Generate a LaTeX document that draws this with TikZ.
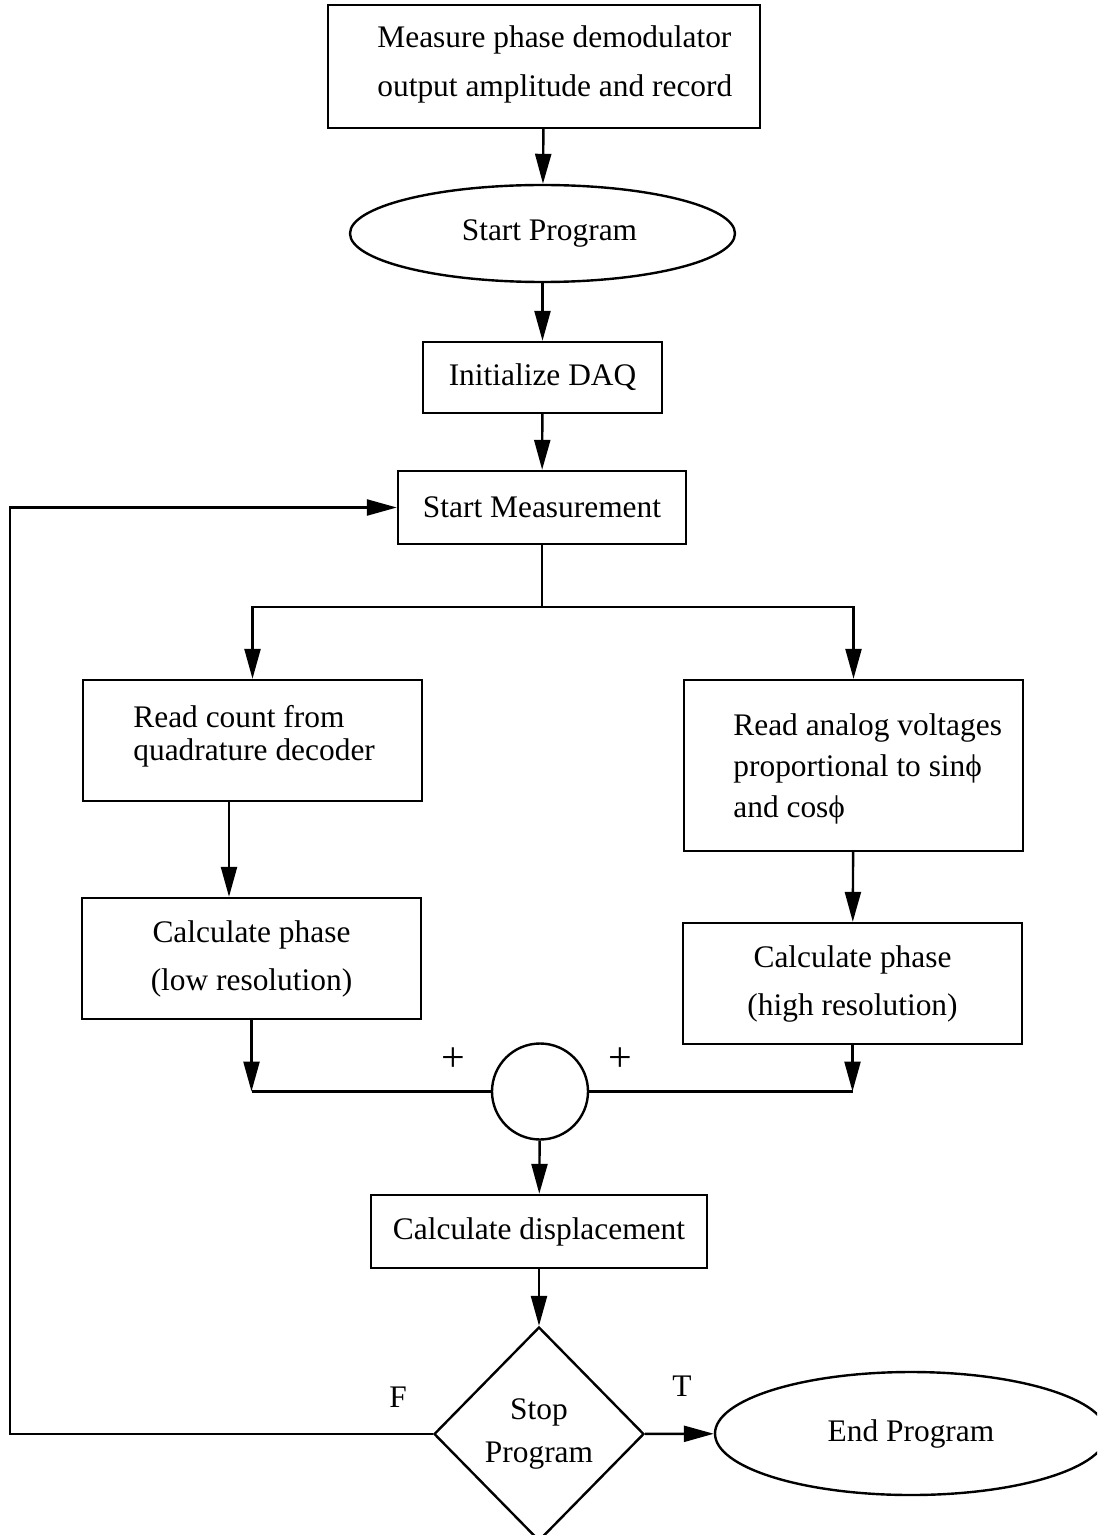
\documentclass[tikz,border=0pt]{standalone}
\usepackage{fontspec}
\setmainfont{Liberation Serif}
\usetikzlibrary{arrows.meta,shapes.geometric}
\tikzset{
	every node/.style={font=\fontsize{15.7pt}{16.5pt}\selectfont},
	box/.style={draw, line width=1.2pt, rectangle, inner sep=0pt, align=center},
	oval/.style={draw, line width=1.2pt, ellipse, inner sep=0pt},
	junc/.style={draw, line width=1.2pt, circle, inner sep=0pt, minimum size=48pt},
	dec/.style={draw, line width=1.2pt, diamond, inner sep=0pt, align=center, minimum width=105pt, minimum height=107pt},
	txt/.style={inner sep=0pt, align=left},
	sign/.style={inner sep=0pt, font=\fontsize{21pt}{22pt}\selectfont},
	ln/.style={line width=1.2pt},
	arr/.style={line width=1.2pt, -{Triangle[length=15pt,width=8pt]}}
}

\begin{document}
\begin{tikzpicture}[x=0.5pt, y=-0.5pt]
			%%%%% START %%%%%
			
			\useasboundingbox (0,0) rectangle (1097,1535);
			\clip (0,0) rectangle (1097,1535);
			
			\node[box, minimum width=216pt, minimum height=61.5pt] (meas) at (544,66.5) {};
			\node[txt, anchor=west] (meas-t) at (377,64) {Measure phase demodulator\\[8pt]output amplitude and record};
			
			\node[oval, minimum width=192.5pt, minimum height=48.5pt] (startp) at (542.5,233.5) {\hspace{7pt}Start Program};
			\node[box, minimum width=119.5pt, minimum height=35.5pt] (init) at (542.5,377.5) {Initialize DAQ};
			\node[box, minimum width=144pt, minimum height=36.5pt] (startm) at (542,507.5) {Start Measurement};
			\coordinate (split) at (542,607);
			
			\node[box, minimum width=169.5pt, minimum height=60.5pt] (rdcount) at (252.5,740.5) {};
			\node[txt, anchor=west] (rdcount-t) at (133,736) {Read count from\\quadrature decoder};
			\node[box, minimum width=169.5pt, minimum height=85.5pt] (rdanalog) at (853.5,765.5) {};
			\node[txt, anchor=west] (rdanalog-t) at (733,769) {Read analog voltages\\[4pt]proportional to sinϕ\\[4pt]and cosϕ};
			
			\node[box, minimum width=169.5pt, minimum height=60.5pt] (calclo) at (251.5,958.5) {Calculate phase\\[7.5pt](low resolution)};
			\node[box, minimum width=169.5pt, minimum height=60.5pt] (calchi) at (852.5,983.5) {Calculate phase\\[7.5pt](high resolution)};
			
			\node[junc] (sum) at (540,1091.5) {};
			\node[sign] (plus-l) at (453,1060) {+};
			\node[sign] (plus-r) at (620,1060) {+};
			
			\node[box, minimum width=168pt, minimum height=36.5pt] (disp) at (539,1231.5) {Calculate displacement};
			\node[dec] (stop) at (539,1434) {Stop\\[5pt]Program};
			\node[oval, minimum width=196pt, minimum height=61.5pt] (endp) at (911,1433.5) {End Program};
			\node[txt] (lab-f) at (398,1397) {F};
			\node[txt] (lab-t) at (682,1386) {T};
			\coordinate (ret) at (10,1434);
			
			\draw[arr] (meas) -- (startp);
			\draw[arr] (startp) -- (init);
			\draw[arr] (init) -- (startm);
			\draw[ln] (startm) -- (split);
			\draw[arr] (split) -| (rdcount.north);
			\draw[arr] (split) -| (rdanalog.north);
			\draw[arr] ([xshift=-11.75pt]rdcount.south) -- ([xshift=-11.75pt]rdcount.south |- calclo.north);
			\draw[arr] (rdanalog) -- (calchi);
			
			\draw[arr] (calclo.south) -- (calclo.south |- sum);
			\draw[ln] (calclo.south |- sum) -- (sum.west);
			\draw[arr] (calchi.south) -- (calchi.south |- sum);
			\draw[ln] (calchi.south |- sum) -- (sum.east);
			
			\draw[arr] (sum) -- (disp);
			\draw[arr] (disp) -- (stop);
			\draw[arr] (stop) -- (endp);
			\draw[arr] (stop.west) -- (ret) |- (startm.west);
			
			%%%%% END %%%%%
		\end{tikzpicture}
\end{document}
